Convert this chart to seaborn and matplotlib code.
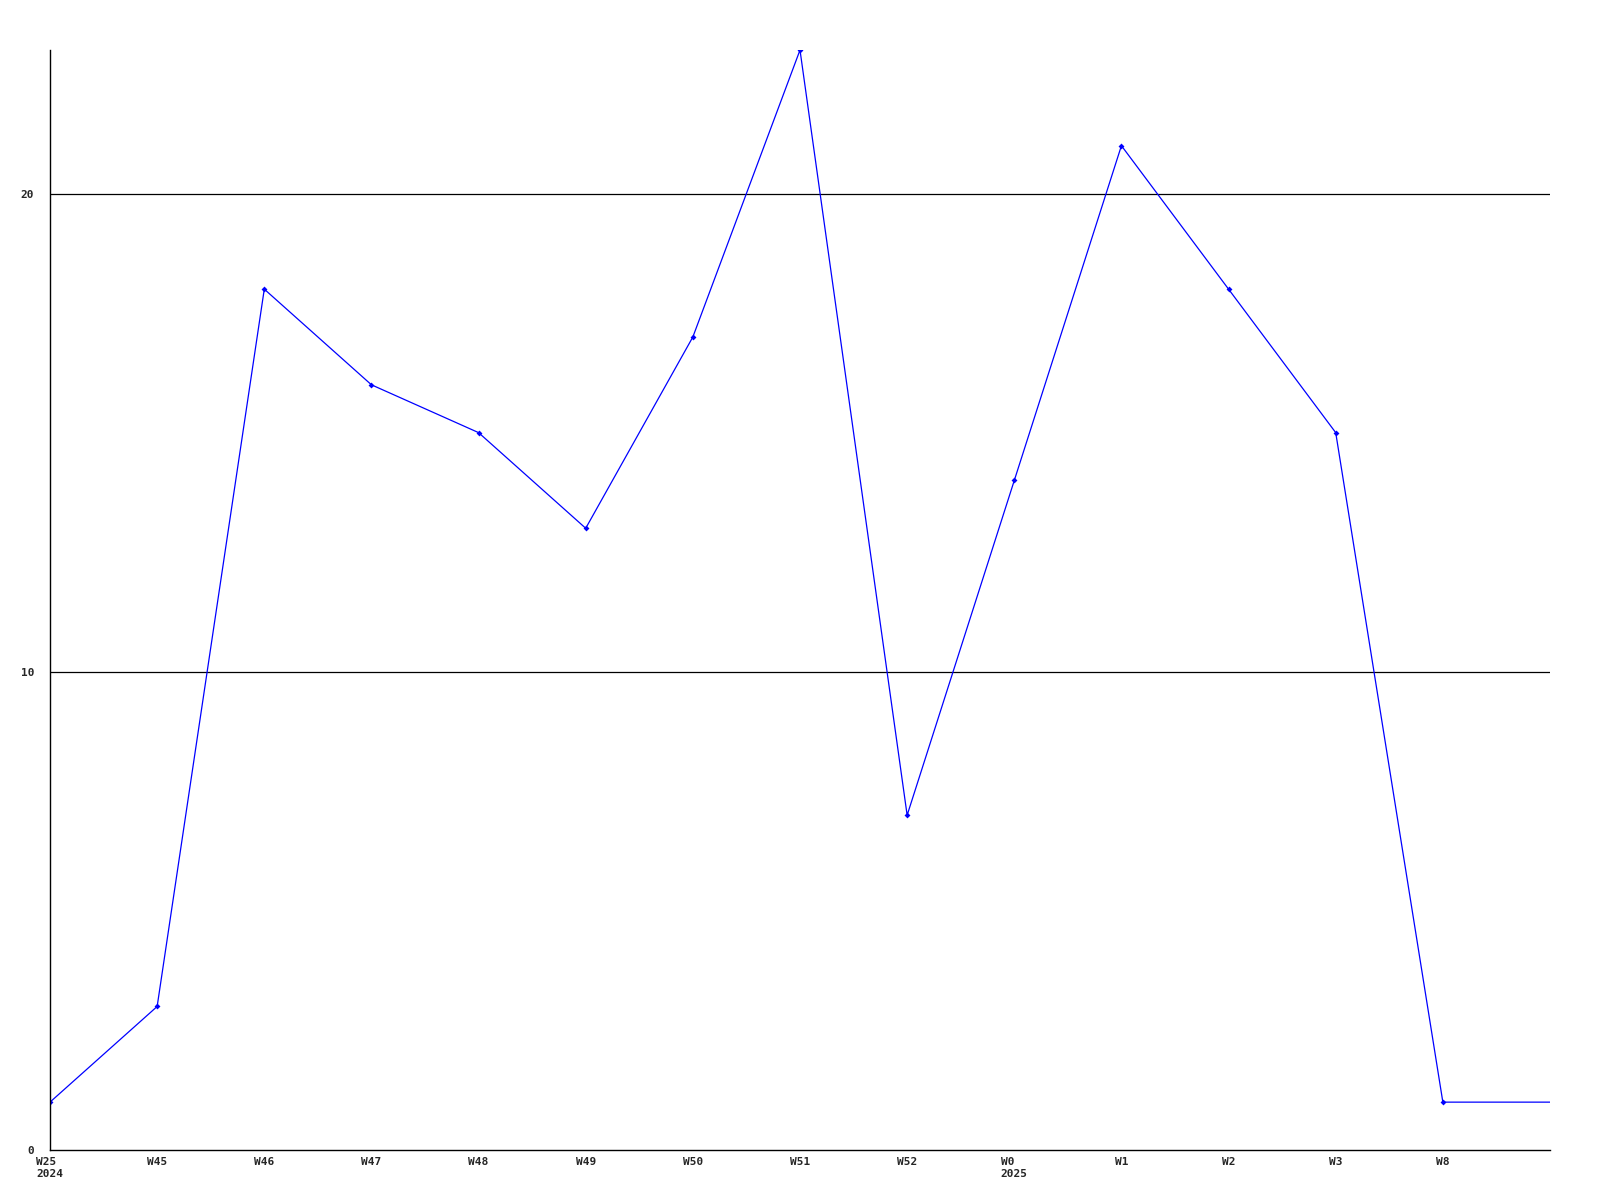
import matplotlib
matplotlib.use("Agg")
import matplotlib.pyplot as plt
import seaborn as sns

# weekly counts
week_labels = ["W25\n2024", "W45", "W46", "W47", "W48", "W49", "W50",
               "W51", "W52", "W0\n2025", "W1", "W2", "W3", "W8"]
counts = [1, 3, 18, 16, 15, 13, 17, 23, 7, 14, 21, 18, 15, 1, 1]
y_ticks = [0, 10, 20]

sns.set_style("white")
plt.rcParams["font.family"] = ["DejaVu Sans Mono"]

fig = plt.figure(figsize=(16, 12), dpi=100)
ax = fig.add_axes([0.03125, 0.0417, 0.9375, 0.9166])

positions = list(range(len(counts)))
sns.lineplot(x=positions, y=counts, ax=ax, color="#0000ff", linewidth=0.9,
             marker="D", markersize=3, markeredgewidth=0,
             markevery=list(range(len(week_labels))))

for t in y_ticks[1:]:
    ax.axhline(t, color="black", linewidth=0.9, zorder=0)

ax.set_xlim(0, len(counts) - 1)
ax.set_ylim(0, 23)
ax.set_xticks(range(len(week_labels)))
ax.set_xticklabels(week_labels, fontsize=8, fontweight="bold", multialignment="left")
ax.set_yticks(y_ticks)
ax.set_yticklabels([str(t) for t in y_ticks], fontsize=8, fontweight="bold")
ax.tick_params(axis="both", length=0)
ax.tick_params(axis="x", pad=5)
ax.tick_params(axis="y", pad=11.5)

for side in ["top", "right"]:
    ax.spines[side].set_visible(False)
for side in ["left", "bottom"]:
    ax.spines[side].set_color("black")
    ax.spines[side].set_linewidth(1.0)

ax.set_xlabel("")
ax.set_ylabel("")
fig.savefig("out.png", dpi=100, facecolor="white")
